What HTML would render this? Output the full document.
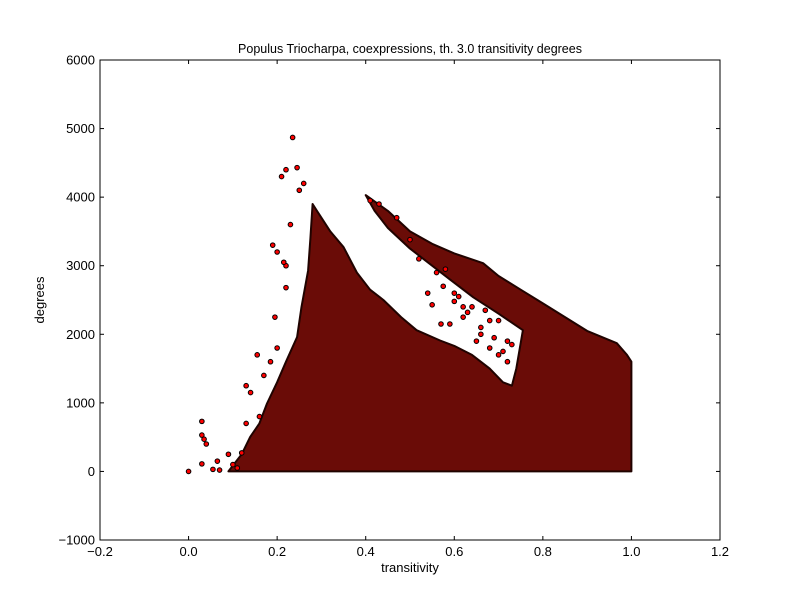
<!DOCTYPE html>
<html><head><meta charset="utf-8"><style>
body{margin:0;background:#fff;}
svg text{font-family:"Liberation Sans",sans-serif;fill:#000;}
</style></head><body>
<svg id="chart" width="800" height="600">
<rect width="800" height="600" fill="#fff"/>
<text x="410" y="53" font-size="12.5" text-anchor="middle">Populus Triocharpa, coexpressions, th. 3.0 transitivity degrees</text>
<g id="marks"></g>
<g id="axes"></g>
<text x="410" y="572" font-size="13" text-anchor="middle">transitivity</text>
<text x="44" y="300" font-size="13" text-anchor="middle" transform="rotate(-90 44 300)">degrees</text>
</svg>
<script>
const xTicks = [-0.2, 0.0, 0.2, 0.4, 0.6, 0.8, 1.0, 1.2];
const xTickLabels = ["\u22120.2", "0.0", "0.2", "0.4", "0.6", "0.8", "1.0", "1.2"];
const yTicks = [-1000, 0, 1000, 2000, 3000, 4000, 5000, 6000];
const yTickLabels = ["\u22121000", "0", "1000", "2000", "3000", "4000", "5000", "6000"];
// dense region envelope (transitivity, degree)
const envT = [0.09,0.12,0.139,0.16,0.177,0.2,0.22,0.245,0.255,0.27,0.275,0.28,0.29,0.30,0.32,0.35,0.38,0.41,0.44,0.48,0.515,0.568,0.60,0.64,0.68,0.71,0.73,0.74,0.755,0.70,0.643,0.59,0.50,0.45,0.42,0.40,0.45,0.50,0.55,0.60,0.665,0.70,0.75,0.80,0.85,0.90,0.967,0.99,1.0,1.0];
const envD = [0,250,500,700,990,1300,1600,1960,2400,2930,3400,3900,3800,3700,3500,3270,2900,2650,2500,2250,2060,1910,1830,1700,1500,1300,1250,1500,2060,2300,2540,2800,3250,3550,3800,4030,3800,3500,3320,3180,3036,2850,2650,2450,2250,2050,1870,1700,1600,0];
// scattered individual points
const ptT = [0.0,0.03,0.03,0.035,0.04,0.03,0.055,0.065,0.07,0.09,0.1,0.12,0.13,0.13,0.155,0.19,0.2,0.195,0.21,0.22,0.235,0.245,0.25,0.22,0.22,0.215,0.14,0.17,0.185,0.55,0.6,0.57,0.61,0.62,0.66,0.5,0.52,0.58,0.63,0.7,0.72,0.68,0.11,0.16,0.2,0.23,0.26,0.41,0.43,0.47,0.56,0.575,0.6,0.62,0.64,0.66,0.67,0.69,0.7,0.71,0.54,0.59,0.65,0.68,0.72,0.73];
const ptD = [0,730,530,470,400,110,30,150,20,250,100,270,1250,700,1700,3300,3200,2250,4300,4400,4870,4430,4100,3000,2680,3050,1150,1400,1600,2430,2600,2150,2550,2400,2100,3380,3100,2950,2320,2200,1900,1800,50,800,1800,3600,4200,3950,3900,3700,2900,2700,2480,2250,2400,2000,2350,1950,1700,1750,2600,2150,1900,2200,1600,1850];

const X0=100,X1=720,Y0=540,Y1=60;
const xs=t=>X0+(t+0.2)/1.4*(X1-X0);
const ys=d=>Y0-(d+1000)/7000*(Y0-Y1);
const NS="http://www.w3.org/2000/svg";
const marks=document.getElementById('marks');
const axes=document.getElementById('axes');
function mk(tag,attrs,parent){const e=document.createElementNS(NS,tag);for(const k in attrs)e.setAttribute(k,attrs[k]);parent.appendChild(e);return e;}

let pts=envT.map((t,i)=>xs(t).toFixed(1)+","+ys(envD[i]).toFixed(1)).join(" ");
const poly=mk('polygon',{points:pts,fill:'#6a0c07',stroke:'#200300','stroke-width':2,'stroke-linejoin':'round'},marks);



ptT.forEach((t,i)=>{
  const c=mk('circle',{cx:xs(t),cy:ys(ptD[i]),r:2.3,fill:'#ff0000',stroke:'#000','stroke-width':1},marks);
  
  
});

const frame=mk('rect',{x:X0,y:Y1,width:X1-X0,height:Y0-Y1,fill:'none',stroke:'#000','stroke-width':1},axes);



xTicks.forEach((v,i)=>{
  const x=xs(v);
  mk('line',{x1:x,x2:x,y1:Y0,y2:Y0-4,stroke:'#000'},axes);
  mk('line',{x1:x,x2:x,y1:Y1,y2:Y1+4,stroke:'#000'},axes);
  const tx=mk('text',{x:x,y:Y0+16,'font-size':13,'text-anchor':'middle'},axes);
  tx.textContent=xTickLabels[i];
  
  
});
yTicks.forEach((v,i)=>{
  const y=ys(v);
  mk('line',{x1:X0,x2:X0+4,y1:y,y2:y,stroke:'#000'},axes);
  mk('line',{x1:X1,x2:X1-4,y1:y,y2:y,stroke:'#000'},axes);
  const ty=mk('text',{x:X0-5,y:y+4.5,'font-size':13,'text-anchor':'end'},axes);
  ty.textContent=yTickLabels[i];
  
  
});
</script>
</body></html>
